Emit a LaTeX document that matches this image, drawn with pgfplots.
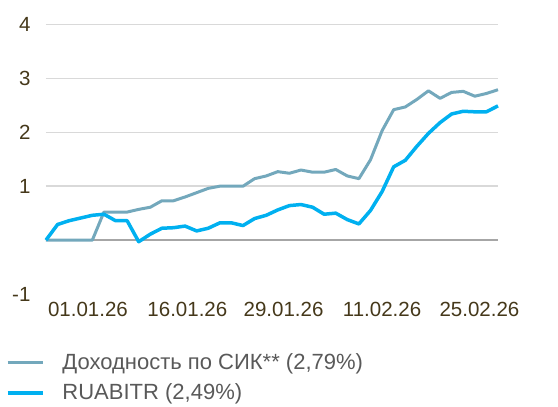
\documentclass[border=0pt]{standalone}
\usepackage{fontspec}
\setmainfont{Liberation Sans}
\usepackage{pgfplots}
\pgfplotsset{compat=1.18}
\definecolor{sikcol}{HTML}{73A8BC}
\definecolor{abicol}{HTML}{00B0F0}
\definecolor{tickcol}{HTML}{45381A}
\definecolor{legcol}{HTML}{595959}
\definecolor{gridcol}{HTML}{D9D9D9}
\definecolor{zerocol}{HTML}{A6A6A6}
\begin{document}
\begin{tikzpicture}[x=1pt,y=1pt]
\begin{axis}[
  at={(46pt,113pt)}, anchor=south west,
  scale only axis, width=452pt, height=269.5pt,
  xmin=0, xmax=39, ymin=-1, ymax=4,
  axis line style={draw=none}, tick style={draw=none},
  ytick={1,2,3,4}, extra y ticks={-1},
  extra y tick style={grid=none},
  ymajorgrids, major grid style={draw=gridcol, line width=1.5pt},
  xtick={3.62,12.2,20.5,29.0,37.4},
  xticklabels={01.01.26,16.01.26,29.01.26,11.02.26,25.02.26},
  /pgf/number format/assume math mode=true,
  ticklabel style={font=\fontsize{20.5}{24}\selectfont, text=tickcol},
  yticklabel style={anchor=east, xshift=-12pt},
  xticklabel style={anchor=north, yshift=-5pt},
  legend style={draw=none, fill=none, at={(-0.089,-0.213)}, anchor=north west,
    font=\fontsize{22}{25}\selectfont, text=legcol,
    row sep=9pt, inner sep=0pt, cells={anchor=west},
    /tikz/every odd column/.append style={column sep=16pt}},
  legend cell align=left,
  legend image code/.code={\draw[#1] (0pt,0pt) -- (35pt,0pt);},
  clip=false,
]
\addplot[zerocol, line width=1.5pt, forget plot] coordinates {(0,0) (39,0)};
\addplot[sikcol, line width=3pt, line join=round] coordinates {
(0,0) (1,0) (2,0) (3,0) (4,0) (5,0.52) (6,0.52) (7,0.52) (8,0.57) (9,0.61)
(10,0.73) (11,0.73) (12,0.80) (13,0.88) (14,0.96) (15,1.00) (16,1.00) (17,1.00) (18,1.14) (19,1.19)
(20,1.27) (21,1.24) (22,1.30) (23,1.26) (24,1.26) (25,1.31) (26,1.19) (27,1.14) (28,1.49) (29,2.03)
(30,2.42) (31,2.47) (32,2.61) (33,2.77) (34,2.63) (35,2.74) (36,2.76) (37,2.67) (38,2.72) (39,2.79)};
\addlegendentry{Доходность по СИК** (2,79\%)}
\addplot[abicol, line width=3.5pt, line join=round] coordinates {
(0,0) (1,0.29) (2,0.36) (3,0.41) (4,0.46) (5,0.48) (6,0.36) (7,0.36) (8,-0.03) (9,0.11)
(10,0.22) (11,0.23) (12,0.26) (13,0.17) (14,0.22) (15,0.32) (16,0.32) (17,0.27) (18,0.40) (19,0.46)
(20,0.56) (21,0.64) (22,0.66) (23,0.61) (24,0.48) (25,0.50) (26,0.38) (27,0.30) (28,0.55) (29,0.90)
(30,1.36) (31,1.48) (32,1.74) (33,1.98) (34,2.18) (35,2.34) (36,2.39) (37,2.38) (38,2.38) (39,2.49)};
\addlegendentry{RUABITR (2,49\%)}
\end{axis}
\pgfresetboundingbox
\path[use as bounding box] (0,0) rectangle (558pt,407pt);
\end{tikzpicture}
\end{document}
